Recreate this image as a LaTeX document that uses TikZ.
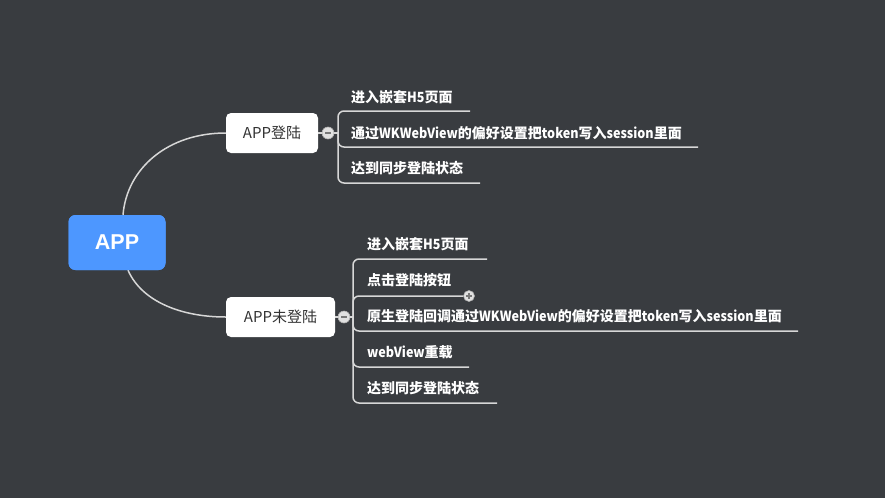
\documentclass[tikz,border=0pt]{standalone}
\usepackage{fontspec}
\setmainfont{Noto Sans CJK SC}
\newfontfamily\lat[FakeStretch=0.9]{Noto Sans CJK SC}
\newfontfamily\rootfont{Liberation Sans}
\definecolor{bgc}{RGB}{57,60,64}
\definecolor{bluec}{RGB}{77,151,255}
\definecolor{linec}{RGB}{215,215,215}
\definecolor{darktext}{RGB}{51,51,51}
\definecolor{knobfill}{RGB}{225,225,225}
\definecolor{knobmark}{RGB}{120,120,120}
\begin{document}
\begin{tikzpicture}[x=1pt,y=-1pt,
  conn/.style={draw=linec, line width=1.5pt},
  branch/.style={conn, rounded corners=6pt},
  rootbox/.style={fill=bluec, rounded corners=7pt, minimum width=97pt, minimum height=55pt, inner sep=0pt,
    text=white, font=\rootfont\bfseries\fontsize{21.5}{26}\selectfont},
  topicbox/.style={fill=white, rounded corners=5pt, minimum height=40pt, inner sep=0pt,
    text=darktext, font=\fontsize{15}{18}\selectfont},
  itemtext/.style={anchor=west, inner sep=0pt, text=white, font=\bfseries\fontsize{14}{17}\selectfont},
  knob/.style={circle, fill=knobfill, draw=knobmark!60, line width=0.6pt, minimum size=12pt, inner sep=0pt},
  minusknob/.style={knob, path picture={\draw[knobmark, line width=1.6pt]
      ([xshift=-3pt]path picture bounding box.center) -- ([xshift=3pt]path picture bounding box.center);}},
  plusknob/.style={knob, minimum size=11pt, path picture={\draw[knobmark, line width=1.5pt]
      ([xshift=-2.6pt]path picture bounding box.center) -- ([xshift=2.6pt]path picture bounding box.center)
      ([yshift=-2.6pt]path picture bounding box.center) -- ([yshift=2.6pt]path picture bounding box.center);}}
]
\fill[bgc] (0,0) rectangle (885,498);
\useasboundingbox (0,0) rectangle (885,498);

% main nodes
\node[rootbox] (app) at (117,242.5) {APP};
\node[topicbox, minimum width=92pt] (t1) at (272,133) {APP登陆};
\node[topicbox, minimum width=109pt] (t2) at (280.5,317) {APP未登陆};

% curves from root
\draw[conn] ([xshift=6pt]app.north) .. controls (127,168) and (168,133) .. (t1.west);
\draw[conn] ([xshift=11pt]app.south) .. controls (142,302) and (182,317) .. (t2.west);
\node[rootbox] at (app.center) {APP};

% knobs and branch points
\node[minusknob] (k1) at (328,133) {};
\node[minusknob] (k2) at (344,317) {};
\coordinate (b1) at (338,133);
\coordinate (b2) at (353,317);
\draw[conn] (t1.east) -- (k1.west);
\draw[conn] (k1.east) -- (b1);
\draw[conn] (t2.east) -- (k2.west);
\draw[conn] (k2.east) -- (b2);

% upper items
\node[itemtext] (a1) at (351,97) {进入嵌套{\lat H5}页面};
\node[itemtext] (a2) at (351,133) {通过{\lat WKWebView}的偏好设置把{\lat token}写入{\lat session}里面};
\node[itemtext] (a3) at (351,168) {达到同步登陆状态};
\coordinate (a1e) at (470,111);
\coordinate (a2e) at (698,147);
\coordinate (a3e) at (480,183);
\draw[branch] (b1) |- (a1e);
\draw[branch] (b1) |- (a2e);
\draw[branch] (b1) |- (a3e);

% lower items
\node[itemtext] (c1) at (367,244) {进入嵌套{\lat H5}页面};
\node[itemtext] (c2) at (367,280) {点击登陆按钮};
\node[itemtext] (c3) at (367,316) {原生登陆回调通过{\lat WKWebView}的偏好设置把{\lat token}写入{\lat session}里面};
\node[itemtext] (c4) at (367,352) {{\lat webView}重载};
\node[itemtext] (c5) at (367,388) {达到同步登陆状态};
\coordinate (c1e) at (487,259);
\node[plusknob] (p1) at (469,296) {};
\coordinate (c3e) at (798,331);
\coordinate (c4e) at (469,367);
\coordinate (c5e) at (497,403);
\draw[branch] (b2) |- (c1e);
\draw[branch] (b2) |- (p1.west);
\draw[branch] (b2) |- (c3e);
\draw[branch] (b2) |- (c4e);
\draw[branch] (b2) |- (c5e);
\end{tikzpicture}
\end{document}
